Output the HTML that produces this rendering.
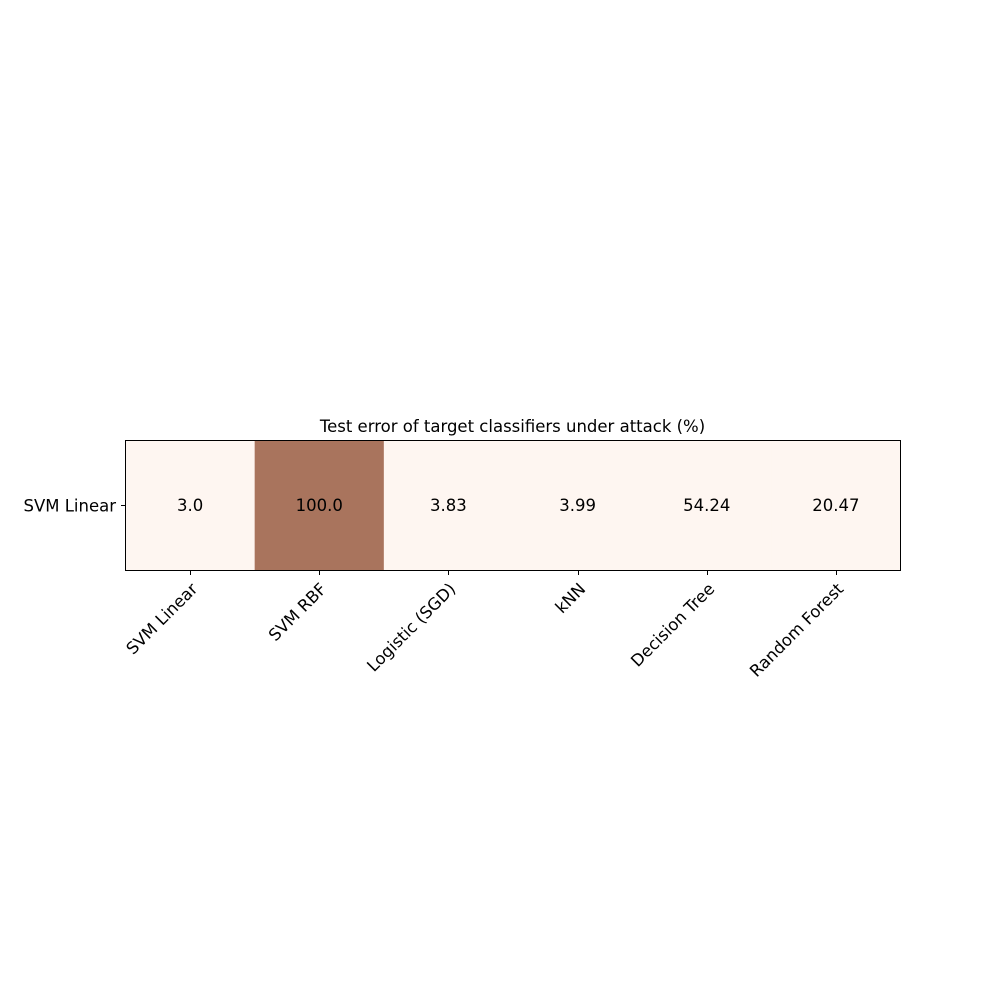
<!DOCTYPE html>
<html><head><meta charset="utf-8"><style>body{margin:0;background:#fff}svg text{font-family:"DejaVu Sans","Liberation Sans",sans-serif;fill:#000}</style></head>
<body>
<svg id="chart" width="1000" height="1000" viewBox="0 0 1000 1000">
<text x="512.5" y="432" font-size="16.5" text-anchor="middle">Test error of target classifiers under attack (%)</text>
<g id="cells"></g>
<g id="xticks"></g>
<rect x="125.5" y="440.5" width="775" height="130" fill="none" stroke="#000" stroke-width="1"/>
<line x1="121" x2="125" y1="505.5" y2="505.5" stroke="#000"/>
<text x="116" y="511.5" font-size="16.5" text-anchor="end">SVM Linear</text>
</svg>
<script>
const categories = ["SVM Linear","SVM RBF","Logistic (SGD)","kNN","Decision Tree","Random Forest"];
const values = [3.0, 100.0, 3.83, 3.99, 54.24, 20.47];
const valueLabels = ["3.0","100.0","3.83","3.99","54.24","20.47"];
const ns="http://www.w3.org/2000/svg";
const x0=125.5,x1=900.5,y0=440.5,y1=570.5;
const cw=(x1-x0)/categories.length;
const xPos=i=>x0+i*cw;
function color(v){return v>=75?"#a9745d":"#fef6f1";}
const cg=document.getElementById("cells"),tg=document.getElementById("xticks");
categories.forEach((c,i)=>{
 const r=document.createElementNS(ns,"rect");
 
 
 r.setAttribute("x",xPos(i));r.setAttribute("y",y0);r.setAttribute("width",cw+0.5);r.setAttribute("height",y1-y0);r.setAttribute("fill",color(values[i]));
 cg.appendChild(r);
 const t=document.createElementNS(ns,"text");
 
 
 t.setAttribute("x",xPos(i)+cw/2);t.setAttribute("y",511);t.setAttribute("font-size","16.5");t.setAttribute("text-anchor","middle");t.textContent=valueLabels[i];
 cg.appendChild(t);
 const cx=Math.round(xPos(i)+cw/2)+0.5;
 const l=document.createElementNS(ns,"line");
 
 
 l.setAttribute("x1",cx);l.setAttribute("x2",cx);l.setAttribute("y1",571);l.setAttribute("y2",575);l.setAttribute("stroke","#000");
 tg.appendChild(l);
 const lb=document.createElementNS(ns,"text");
 
 
 const ax=cx+8,ay=590;
 lb.setAttribute("x",ax);lb.setAttribute("y",ay);lb.setAttribute("font-size","16.5");lb.setAttribute("text-anchor","end");
 lb.setAttribute("transform",`rotate(-45 ${ax} ${ay})`);lb.textContent=c;
 tg.appendChild(lb);
});
</script>
</body></html>
